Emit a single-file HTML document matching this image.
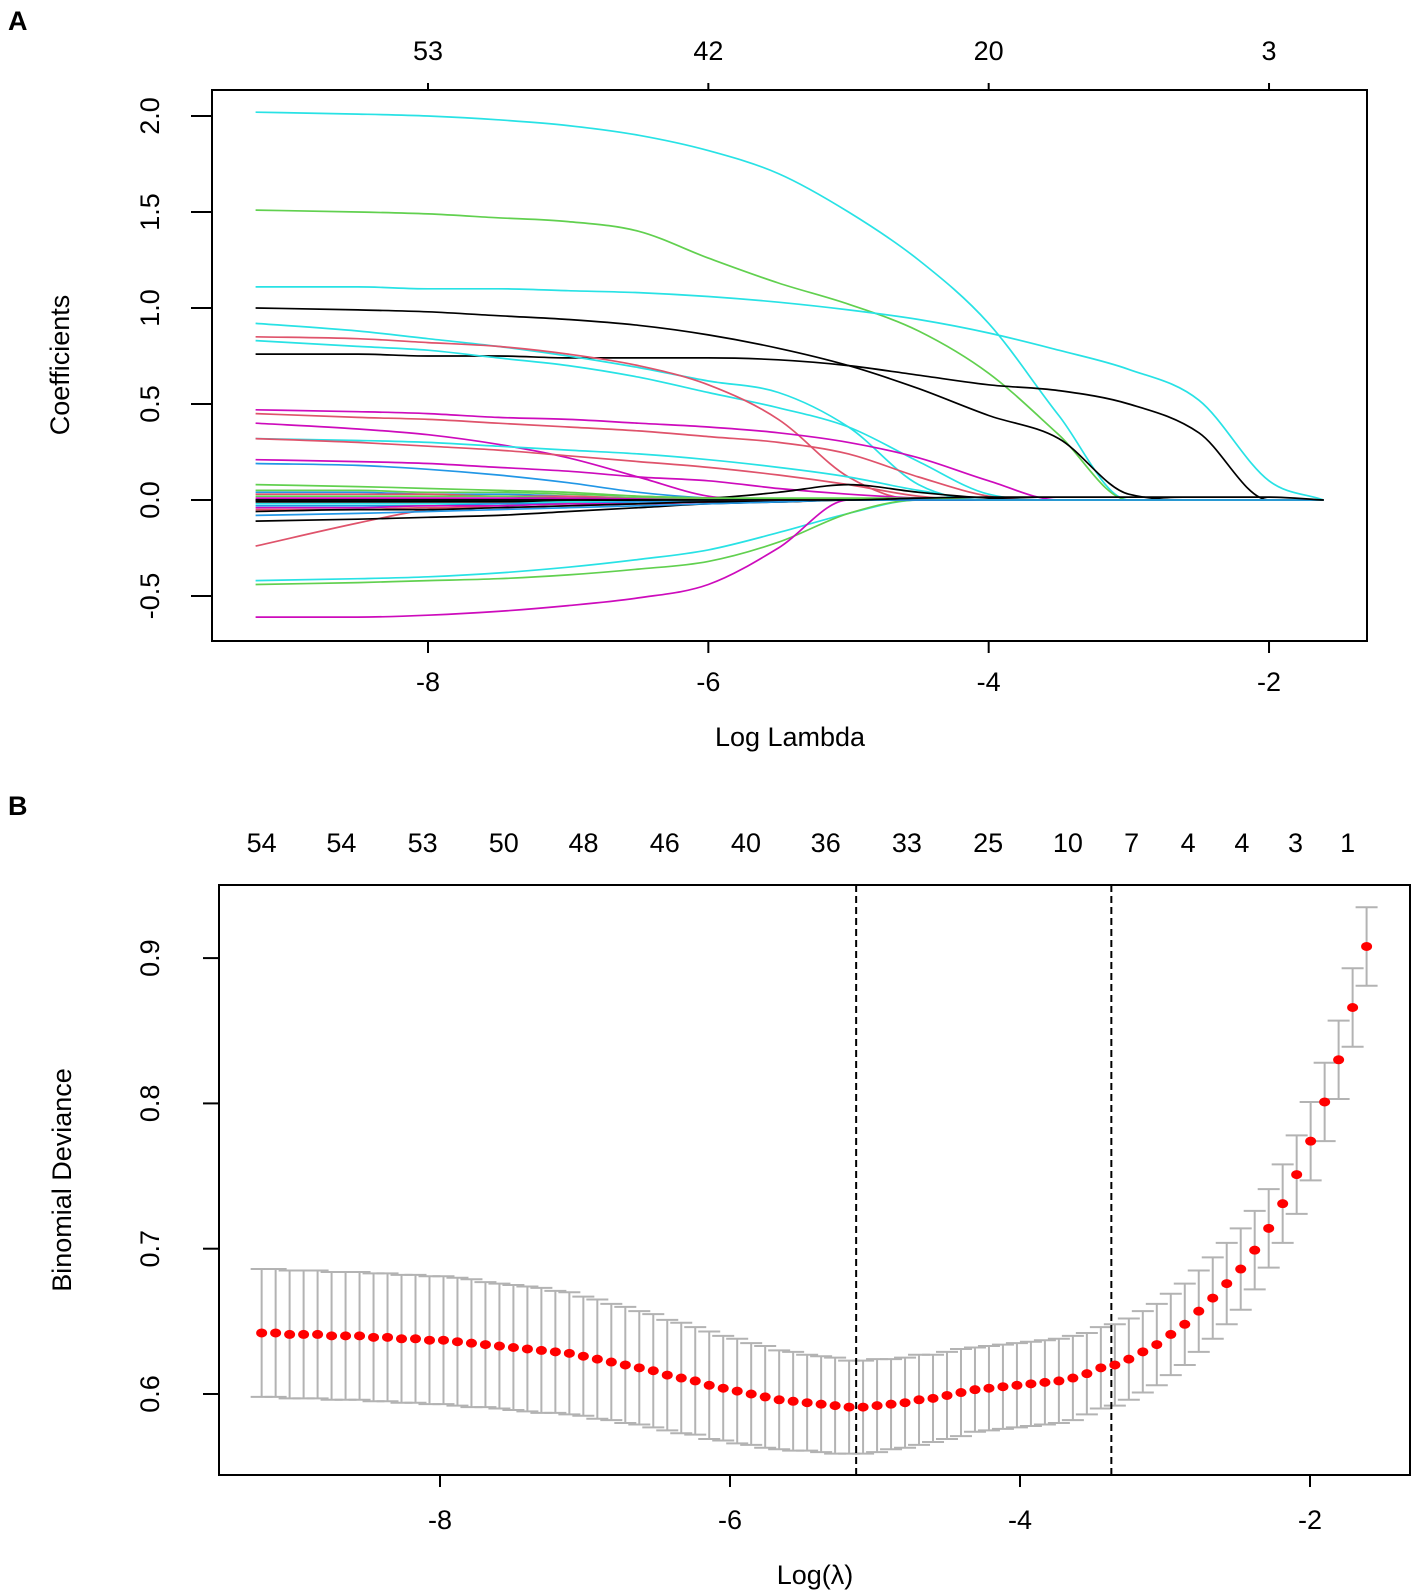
<!DOCTYPE html>
<html><head><meta charset="utf-8"><style>
html,body{margin:0;padding:0;background:#fff;}
svg{display:block;font-family:"Liberation Sans",Arial,sans-serif;}
</style></head><body>
<svg id="chart" width="1418" height="1595" viewBox="0 0 1418 1595" xmlns="http://www.w3.org/2000/svg">
<text x="8" y="30" font-size="27" font-weight="bold">A</text>
<text x="8" y="815" font-size="27" font-weight="bold">B</text>
<g id="pa"></g>
<g id="pb"></g>
</svg>
<script>
// ---------- Panel A data ----------
const gridA = [-9.23,-8.5,-8,-7.5,-7,-6.5,-6,-5.5,-5,-4.5,-4,-3.5,-3,-2.5,-2,-1.61];
const xTicksA = [-8,-6,-4,-2];
const topLabelsA = ["53","42","20","3"];
const yTicksA = [-0.5,0,0.5,1,1.5,2];
const yTickLabelsA = ["-0.5","0.0","0.5","1.0","1.5","2.0"];
const pathColors = ["#28E2E5","#61D04F","#28E2E5","#000000","#000000","#28E2E5","#28E2E5","#DF536B","#CD0BBC","#DF536B","#CD0BBC","#28E2E5","#DF536B","#CD0BBC","#2297E6","#61D04F","#000000","#DF536B","#000000","#28E2E5","#61D04F","#CD0BBC",
 "#2297E6","#DF536B","#61D04F","#CD0BBC","#000000","#28E2E5","#2297E6","#CD0BBC","#DF536B","#000000","#61D04F","#2297E6","#000000"];
const pathValues = [
 [2.02,2.01,2.0,1.98,1.95,1.9,1.82,1.7,1.5,1.25,0.92,0.44,0,0,0,0],
 [1.51,1.50,1.49,1.47,1.45,1.40,1.26,1.13,1.02,0.88,0.66,0.34,0,0,0,0],
 [1.11,1.11,1.10,1.10,1.09,1.08,1.06,1.03,0.99,0.94,0.87,0.78,0.68,0.52,0.10,0],
 [1.0,0.99,0.98,0.96,0.94,0.91,0.86,0.79,0.70,0.58,0.44,0.32,0.03,0,0,0],
 [0.76,0.76,0.75,0.75,0.74,0.74,0.74,0.73,0.70,0.65,0.60,0.57,0.50,0.35,0,0],
 [0.92,0.88,0.84,0.80,0.75,0.69,0.62,0.56,0.38,0.08,0,0,0,0,0,0],
 [0.83,0.80,0.78,0.74,0.70,0.64,0.56,0.48,0.38,0.20,0.03,0,0,0,0,0],
 [0.85,0.84,0.82,0.80,0.76,0.70,0.60,0.42,0.12,0,0,0,0,0,0,0],
 [0.47,0.46,0.45,0.43,0.42,0.40,0.38,0.35,0.30,0.22,0.10,0,0,0,0,0],
 [0.45,0.43,0.42,0.40,0.38,0.36,0.33,0.30,0.24,0.12,0.02,0,0,0,0,0],
 [0.40,0.37,0.34,0.29,0.22,0.12,0.02,0,0,0,0,0,0,0,0,0],
 [0.32,0.31,0.30,0.28,0.26,0.24,0.21,0.17,0.12,0.05,0,0,0,0,0,0],
 [0.32,0.30,0.28,0.26,0.23,0.20,0.17,0.13,0.08,0.02,0,0,0,0,0,0],
 [0.21,0.20,0.19,0.17,0.15,0.12,0.10,0.06,0.03,0.01,0,0,0,0,0,0],
 [0.19,0.18,0.16,0.13,0.09,0.04,0.01,0,0,0,0,0,0,0,0,0],
 [0.08,0.07,0.06,0.05,0.04,0.02,0.01,0,0,0,0,0,0,0,0,0],
 [0,0,0,0,0,0.005,0.01,0.04,0.08,0.04,0.01,0,0,0,0,0],
 [-0.24,-0.12,-0.05,-0.03,-0.02,-0.01,0,0,0,0,0,0,0,0,0,0],
 [-0.11,-0.10,-0.09,-0.08,-0.06,-0.04,-0.02,-0.01,0,0,0,0,0,0,0,0],
 [-0.42,-0.41,-0.40,-0.38,-0.35,-0.31,-0.26,-0.17,-0.07,0,0,0,0,0,0,0],
 [-0.44,-0.43,-0.42,-0.41,-0.39,-0.36,-0.32,-0.22,-0.07,0,0,0,0,0,0,0],
 [-0.61,-0.61,-0.60,-0.58,-0.55,-0.51,-0.44,-0.25,0,0,0,0,0,0,0,0],
 [0.04,0.04,0.03,0.03,0.02,0.01,0,0,0,0,0,0,0,0,0,0],
 [0.03,0.03,0.03,0.02,0.02,0.01,0.01,0,0,0,0,0,0,0,0,0],
 [0.02,0.02,0.02,0.02,0.01,0.01,0,0,0,0,0,0,0,0,0,0],
 [0.01,0.01,0.01,0.01,0.01,0.005,0,0,0,0,0,0,0,0,0,0],
 [-0.01,-0.01,-0.01,-0.01,-0.01,0,0,0,0,0,0,0,0,0,0,0],
 [-0.02,-0.02,-0.02,-0.02,-0.01,-0.01,0,0,0,0,0,0,0,0,0,0],
 [-0.03,-0.03,-0.03,-0.02,-0.02,-0.01,-0.01,0,0,0,0,0,0,0,0,0],
 [-0.04,-0.04,-0.03,-0.03,-0.02,-0.02,-0.01,0,0,0,0,0,0,0,0,0],
 [-0.05,-0.05,-0.04,-0.04,-0.03,-0.02,-0.01,0,0,0,0,0,0,0,0,0],
 [-0.06,-0.05,-0.05,-0.04,-0.03,-0.02,-0.01,-0.01,0,0,0,0,0,0,0,0],
 [0.05,0.05,0.04,0.04,0.03,0.02,0.01,0.01,0.01,0.01,0,0,0,0,0,0],
 [-0.08,-0.07,-0.06,-0.05,-0.04,-0.03,-0.02,-0.01,0,0,0,0,0,0,0,0],
 [0,0,0,0,0,0,0,0,0,0.01,0.015,0.015,0.015,0.015,0.015,0]
];
// ---------- Panel B data ----------
const cvLambda = [];
const lambdaStart = -9.23, lambdaStep = 0.09646;
const devMean = [0.642,0.642,0.641,0.641,0.641,0.640,0.640,0.640,0.639,0.639,0.638,0.638,0.637,
 0.637,0.636,0.635,0.634,0.633,0.632,0.631,0.630,0.629,0.628,0.626,
 0.624,0.622,0.620,0.618,0.616,0.613,0.611,0.609,0.606,0.604,
 0.602,0.600,0.598,0.596,0.595,0.594,0.593,0.592,0.591,
 0.591,0.592,0.593,0.594,0.596,0.597,0.599,0.601,0.603,0.604,0.605,0.606,
 0.607,0.608,0.609,0.611,0.614,0.618,0.620,0.624,0.629,0.634,0.641,0.648,0.657,0.666,0.676,0.686,0.699,0.714,0.731,0.751,0.774,0.801,0.830,0.866,0.908];
const devSE = [0.044,0.044,0.044,0.044,0.044,0.044,0.044,0.044,0.044,0.044,0.044,0.044,0.044,
 0.044,0.044,0.044,0.043,0.043,0.043,0.043,0.043,0.042,0.042,0.041,
 0.041,0.040,0.040,0.039,0.039,0.038,0.038,0.037,0.037,0.036,
 0.036,0.035,0.035,0.034,0.034,0.033,0.033,0.033,0.032,
 0.032,0.032,0.031,0.031,0.031,0.030,0.030,0.030,0.029,0.029,0.029,0.029,
 0.029,0.029,0.029,0.029,0.028,0.028,0.028,0.028,0.028,0.028,0.028,0.028,0.028,0.028,0.028,0.028,0.027,0.027,0.027,0.027,0.027,0.027,0.027,0.027,0.027];
const topLabelsB = ["54","54","53","50","48","46","40","36","33","25","10","7","4","4","3","1"];
const topLabelPosB = [-9.23,-8.68,-8.12,-7.56,-7.01,-6.45,-5.89,-5.34,-4.78,-4.22,-3.67,-3.23,-2.84,-2.47,-2.10,-1.74];
const xTicksB = [-8,-6,-4,-2];
const yTicksB = [0.6,0.7,0.8,0.9];
const yTickLabelsB = ["0.6","0.7","0.8","0.9"];
const lambdaMin = -5.13, lambda1se = -3.37;

const NS = "http://www.w3.org/2000/svg";
function mk(tag, attrs, parent){ const e=document.createElementNS(NS,tag); for(const k in attrs) e.setAttribute(k,attrs[k]); parent.appendChild(e); return e; }

// monotone cubic path through points
function smoothPath(px, py){
  const n = px.length, d = [], m = [];
  for(let i=0;i<n-1;i++) d.push((py[i+1]-py[i])/(px[i+1]-px[i]));
  m.push(d[0]);
  for(let i=1;i<n-1;i++){ m.push(d[i-1]*d[i]<=0 ? 0 : (d[i-1]+d[i])/2); }
  m.push(d[n-2]);
  for(let i=0;i<n-1;i++){
    if(d[i]===0){ m[i]=0; m[i+1]=0; continue; }
    const a=m[i]/d[i], b=m[i+1]/d[i], s=a*a+b*b;
    if(s>9){ const t=3/Math.sqrt(s); m[i]=t*a*d[i]; m[i+1]=t*b*d[i]; }
  }
  let p = `M${px[0].toFixed(1)},${py[0].toFixed(1)}`;
  for(let i=0;i<n-1;i++){
    const h = (px[i+1]-px[i])/3;
    p += ` C${(px[i]+h).toFixed(1)},${(py[i]+m[i]*h).toFixed(1)} ${(px[i+1]-h).toFixed(1)},${(py[i+1]-m[i+1]*h).toFixed(1)} ${px[i+1].toFixed(1)},${py[i+1].toFixed(1)}`;
  }
  return p;
}

const FS = 27;
// ---------- Panel A ----------
const pa = document.getElementById('pa');
const A = {l:212,r:1367,t:90,b:641};
const xA = v => 428 + (v + 8) * 140.17;
const yA = v => 500 - v * 192;
let e;
e = mk('rect',{x:A.l,y:A.t,width:A.r-A.l,height:A.b-A.t,fill:'none',stroke:'#000','stroke-width':2},pa);
 
pathValues.forEach((vals,i)=>{
  const px = gridA.map(xA), py = vals.map(yA);
  const pl = mk('path',{d:smoothPath(px,py),fill:'none',stroke:pathColors[i%pathColors.length],'stroke-width':1.7},pa);
  
  
});
xTicksA.forEach((v,i)=>{
  const x = xA(v);
  mk('line',{x1:x,x2:x,y1:A.b,y2:A.b+12,stroke:'#000','stroke-width':2},pa);
  const t = mk('text',{x:x,y:691,'font-size':FS,'text-anchor':'middle'},pa); t.textContent = String(v);
   
  mk('line',{x1:x,x2:x,y1:A.t,y2:A.t-7,stroke:'#000','stroke-width':2},pa);
  const t2 = mk('text',{x:x,y:60,'font-size':FS,'text-anchor':'middle'},pa); t2.textContent = topLabelsA[i];
   
});
yTicksA.forEach((v,i)=>{
  const y = yA(v);
  mk('line',{x1:A.l,x2:A.l-21,y1:y,y2:y,stroke:'#000','stroke-width':2},pa);
  const t = mk('text',{x:150,y:y,'font-size':FS,'text-anchor':'middle',transform:`rotate(-90 150 ${y})`,'dominant-baseline':'central'},pa);
  t.textContent = yTickLabelsA[i];
   
});
e = mk('text',{x:790,y:746,'font-size':FS,'text-anchor':'middle'},pa); e.textContent='Log Lambda';
 
e = mk('text',{x:60,y:365,'font-size':FS,'text-anchor':'middle','dominant-baseline':'central',transform:'rotate(-90 60 365)'},pa); e.textContent='Coefficients';
 

// ---------- Panel B ----------
const pb = document.getElementById('pb');
const B = {l:219,r:1410,t:885,b:1475};
const xB = v => 440 + (v + 8) * 145;
const yB = v => 1394 - (v - 0.6) * 1453;
e = mk('rect',{x:B.l,y:B.t,width:B.r-B.l,height:B.b-B.t,fill:'none',stroke:'#000','stroke-width':2},pb);
 
devMean.forEach((m,i)=>{
  const lam = lambdaStart + i*lambdaStep;
  cvLambda.push(lam);
  const x = xB(lam), yu = yB(m+devSE[i]), yl = yB(m-devSE[i]);
  const g = mk('g',{stroke:'#b3b3b3','stroke-width':2},pb);
   
  mk('line',{x1:x,x2:x,y1:yu,y2:yl},g);
  mk('line',{x1:x-11,x2:x+11,y1:yu,y2:yu},g);
  mk('line',{x1:x-11,x2:x+11,y1:yl,y2:yl},g);
});
[lambdaMin,lambda1se].forEach((v,i)=>{
  const l = mk('line',{x1:xB(v),x2:xB(v),y1:B.t,y2:B.b,stroke:'#000','stroke-width':2,'stroke-dasharray':'7,4'},pb);
   
});
devMean.forEach((m,i)=>{
  const c = mk('ellipse',{cx:xB(cvLambda[i]),cy:yB(m),rx:5.5,ry:4.5,fill:'#ff0000'},pb);
   
});
topLabelsB.forEach((s,i)=>{
  const t = mk('text',{x:xB(topLabelPosB[i]),y:852,'font-size':FS,'text-anchor':'middle'},pb); t.textContent = s;
   
});
xTicksB.forEach(v=>{
  const x = xB(v);
  mk('line',{x1:x,x2:x,y1:B.b,y2:B.b+12,stroke:'#000','stroke-width':2},pb);
  const t = mk('text',{x:x,y:1529,'font-size':FS,'text-anchor':'middle'},pb); t.textContent = String(v);
   
});
yTicksB.forEach((v,i)=>{
  const y = yB(v);
  mk('line',{x1:B.l,x2:B.l-16,y1:y,y2:y,stroke:'#000','stroke-width':2},pb);
  const t = mk('text',{x:150,y:y,'font-size':FS,'text-anchor':'middle',transform:`rotate(-90 150 ${y})`,'dominant-baseline':'central'},pb);
  t.textContent = yTickLabelsB[i];
   
});
e = mk('text',{x:815,y:1584,'font-size':FS,'text-anchor':'middle'},pb); e.textContent='Log(λ)';
 
e = mk('text',{x:62,y:1180,'font-size':FS,'text-anchor':'middle','dominant-baseline':'central',transform:'rotate(-90 62 1180)'},pb); e.textContent='Binomial Deviance';
 
</script>
</body></html>
